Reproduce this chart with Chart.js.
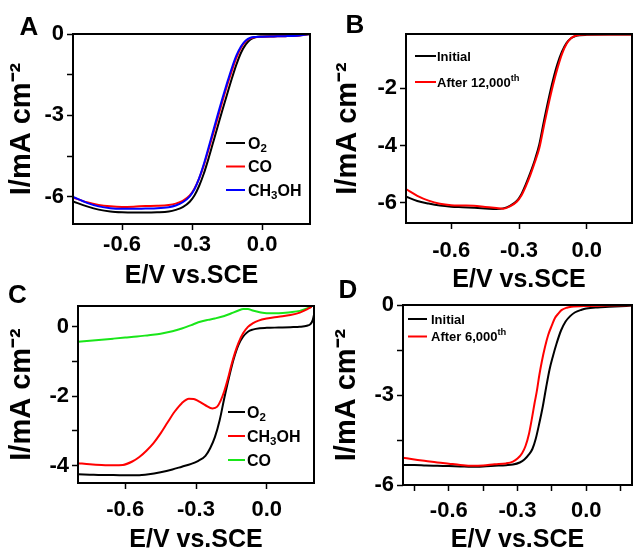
<!DOCTYPE html>
<html><head><meta charset="utf-8">
<script src="https://cdn.jsdelivr.net/npm/chart.js@4.4.1/dist/chart.umd.min.js"></script>
<style>
html,body{margin:0;padding:0;background:#fff;}
body{width:633px;height:553px;position:relative;overflow:hidden;}
canvas{position:absolute;}
</style></head><body>
<canvas id="cA" width="316" height="296" style="left:0;top:0"></canvas>
<canvas id="cB" width="317" height="296" style="left:316px;top:0"></canvas>
<canvas id="cC" width="316" height="277" style="left:0;top:276px"></canvas>
<canvas id="cD" width="317" height="277" style="left:316px;top:276px"></canvas>
<script>
// ---------- DATA ----------
// Panel A
const E_A = [-0.81,-0.75,-0.70,-0.65,-0.60,-0.55,-0.50,-0.45,-0.40,-0.37,-0.34,-0.31,-0.29,-0.27,-0.25,-0.23,-0.21,-0.19,-0.17,-0.15,-0.13,-0.11,-0.09,-0.07,-0.05,-0.03,0.00,0.05,0.10,0.15,0.18,0.205];
const I_A_O2 = [-6.17,-6.35,-6.47,-6.54,-6.57,-6.58,-6.58,-6.57,-6.54,-6.48,-6.38,-6.18,-5.95,-5.60,-5.15,-4.60,-4.00,-3.40,-2.80,-2.22,-1.65,-1.12,-0.68,-0.38,-0.20,-0.12,-0.09,-0.08,-0.07,-0.05,-0.02,0.00];
const I_A_CO = [-6.02,-6.20,-6.30,-6.35,-6.37,-6.36,-6.34,-6.33,-6.30,-6.25,-6.15,-5.95,-5.70,-5.33,-4.85,-4.28,-3.68,-3.08,-2.48,-1.90,-1.36,-0.87,-0.50,-0.27,-0.16,-0.12,-0.10,-0.09,-0.08,-0.06,-0.03,0.00];
const I_A_MeOH = [-6.00,-6.22,-6.35,-6.42,-6.44,-6.44,-6.43,-6.42,-6.38,-6.32,-6.20,-5.98,-5.72,-5.32,-4.80,-4.20,-3.58,-2.97,-2.37,-1.80,-1.26,-0.79,-0.45,-0.24,-0.14,-0.11,-0.10,-0.09,-0.08,-0.06,-0.03,0.00];
const LABELS_A = ['O_{2}','CO','CH_{3}OH'];
// Panel B
const E_B = [-0.80,-0.75,-0.70,-0.65,-0.60,-0.55,-0.50,-0.45,-0.40,-0.37,-0.34,-0.31,-0.29,-0.27,-0.25,-0.23,-0.21,-0.19,-0.17,-0.15,-0.13,-0.11,-0.09,-0.07,-0.05,-0.03,0.00,0.10,0.20];
const I_B_INIT = [-5.78,-5.93,-6.02,-6.09,-6.13,-6.15,-6.17,-6.19,-6.21,-6.19,-6.10,-5.93,-5.70,-5.35,-4.95,-4.50,-3.95,-3.15,-2.40,-1.72,-1.15,-0.72,-0.42,-0.25,-0.17,-0.14,-0.13,-0.12,-0.12];
const I_B_AFTER = [-5.52,-5.75,-5.92,-6.03,-6.08,-6.09,-6.10,-6.14,-6.18,-6.20,-6.12,-5.96,-5.75,-5.42,-5.03,-4.58,-4.08,-3.32,-2.58,-1.90,-1.30,-0.80,-0.45,-0.25,-0.16,-0.13,-0.12,-0.12,-0.12];
const LABELS_B = ['Initial','After 12,000^{th}'];
// Panel C
const E_C_O2 = [-0.80,-0.75,-0.70,-0.65,-0.60,-0.55,-0.50,-0.45,-0.40,-0.36,-0.32,-0.29,-0.26,-0.24,-0.22,-0.20,-0.18,-0.16,-0.14,-0.12,-0.10,-0.08,-0.06,-0.03,0.00,0.05,0.10,0.14,0.17,0.185,0.195,0.20];
const I_C_O2 = [-4.25,-4.26,-4.27,-4.27,-4.28,-4.28,-4.25,-4.19,-4.11,-4.03,-3.95,-3.86,-3.72,-3.50,-3.18,-2.70,-2.05,-1.45,-0.92,-0.52,-0.28,-0.14,-0.08,-0.04,-0.03,-0.02,-0.01,0.00,0.03,0.08,0.20,0.35];
const E_C_MeOH = [-0.80,-0.75,-0.70,-0.65,-0.61,-0.57,-0.54,-0.51,-0.48,-0.45,-0.42,-0.39,-0.36,-0.33,-0.31,-0.29,-0.26,-0.23,-0.21,-0.195,-0.18,-0.165,-0.15,-0.135,-0.12,-0.10,-0.08,-0.06,-0.035,0.00,0.05,0.10,0.14,0.17,0.19];
const I_C_MeOH = [-3.93,-3.96,-3.98,-3.99,-3.98,-3.88,-3.75,-3.57,-3.35,-3.07,-2.75,-2.44,-2.20,-2.07,-2.08,-2.14,-2.26,-2.35,-2.30,-2.12,-1.85,-1.50,-1.10,-0.75,-0.46,-0.18,0.00,0.10,0.18,0.24,0.29,0.34,0.41,0.50,0.58];
const E_C_CO = [-0.80,-0.75,-0.70,-0.65,-0.60,-0.55,-0.50,-0.45,-0.40,-0.36,-0.32,-0.29,-0.25,-0.22,-0.18,-0.15,-0.12,-0.10,-0.08,-0.06,-0.03,0.00,0.05,0.10,0.14,0.17,0.19];
const I_C_CO = [-0.43,-0.40,-0.37,-0.34,-0.31,-0.28,-0.24,-0.20,-0.13,-0.05,0.05,0.13,0.20,0.24,0.31,0.39,0.47,0.51,0.51,0.47,0.42,0.39,0.39,0.42,0.46,0.53,0.58];
const LABELS_C = ['O_{2}','CH_{3}OH','CO'];
// Panel D
const E_D_INIT = [-0.80,-0.75,-0.70,-0.65,-0.60,-0.55,-0.50,-0.45,-0.40,-0.35,-0.32,-0.29,-0.27,-0.25,-0.235,-0.22,-0.205,-0.19,-0.175,-0.16,-0.145,-0.13,-0.11,-0.09,-0.07,-0.05,-0.02,0.00,0.05,0.10,0.15,0.20];
const I_D_INIT = [-5.33,-5.33,-5.35,-5.36,-5.37,-5.38,-5.39,-5.38,-5.36,-5.34,-5.32,-5.25,-5.15,-4.98,-4.80,-4.45,-3.95,-3.40,-2.75,-2.15,-1.70,-1.30,-0.85,-0.55,-0.37,-0.25,-0.16,-0.12,-0.08,-0.06,-0.04,-0.02];
const E_D_AFTER = [-0.80,-0.75,-0.70,-0.65,-0.60,-0.55,-0.50,-0.45,-0.40,-0.35,-0.32,-0.30,-0.28,-0.265,-0.25,-0.237,-0.225,-0.216,-0.205,-0.194,-0.18,-0.166,-0.15,-0.137,-0.12,-0.108,-0.085,-0.065,0.00,0.10,0.20];
const I_D_AFTER = [-5.09,-5.15,-5.20,-5.25,-5.29,-5.33,-5.36,-5.35,-5.31,-5.28,-5.22,-5.12,-4.94,-4.70,-4.30,-3.78,-3.25,-2.89,-2.35,-1.89,-1.40,-1.00,-0.68,-0.44,-0.27,-0.17,-0.09,-0.06,-0.03,-0.02,-0.01];
const LABELS_D = ['Initial','After 6,000^{th}'];
// Ticks
const X_MAJOR = [-0.6,-0.3,0.0];
const X_MINOR_D = [-0.75,-0.45,-0.15,0.15];
const Y_MAJOR_A = [0,-3,-6], Y_MINOR_A = [-1.5,-4.5];
const Y_MAJOR_B = [-2,-4,-6];
const Y_MAJOR_C = [0,-2,-4], Y_MINOR_C = [-1,-3];
const Y_MAJOR_D = [0,-3,-6], Y_MINOR_D = [-1.5,-4.5];
const X_TITLE = 'E/V vs.SCE';
const Y_TITLE = 'I/mA cm\u207B\u00B2';

// ---------- RENDERING ----------
const FAMILY = "'Liberation Sans', Arial, Helvetica, sans-serif";
Chart.defaults.font.family = FAMILY;
Chart.defaults.color = '#000';

function pts(xs, ys){ return xs.map((x,i)=>({x:x, y:ys[i]})); }
function parseRich(s){
  const out=[]; const re=/([_^])\{([^}]*)\}/g; let last=0,m;
  while((m=re.exec(s))){ if(m.index>last) out.push([s.slice(last,m.index),'n']); out.push([m[2], m[1]==='_'?'sub':'sup']); last=re.lastIndex; }
  if(last<s.length) out.push([s.slice(last),'n']);
  return out;
}
function drawRich(ctx, s, x, y, size){
  for(const [t,k] of parseRich(s)){
    const fs = k==='n'?size:size*0.72;
    const dy = k==='sub'?size*0.22:(k==='sup'?-size*0.45:0);
    ctx.font = 'bold '+fs+'px '+FAMILY;
    ctx.fillText(t,x,y+dy);
    x += ctx.measureText(t).width;
  }
}
const decor = {
  id:'decor',
  afterDraw(chart, args, o){
    const ctx = chart.ctx, a = chart.chartArea;
    ctx.save();
    ctx.strokeStyle='#000'; ctx.lineWidth=2;
    ctx.strokeRect(a.left, a.top, a.right-a.left, a.bottom-a.top);
    // panel letter
    ctx.fillStyle='#000'; ctx.textAlign='center'; ctx.textBaseline='alphabetic';
    ctx.font='bold 26px '+FAMILY;
    ctx.fillText(o.letter, o.lx, o.ly);
    // legend
    ctx.textAlign='left';
    const ds = chart.data.datasets;
    o.labels.forEach((lab,i)=>{
      const y = o.gy + i*o.gdy;
      ctx.strokeStyle = ds[i].borderColor; ctx.lineWidth=2;
      ctx.beginPath(); ctx.moveTo(o.gx, y); ctx.lineTo(o.gx+o.glen, y); ctx.stroke();
      ctx.fillStyle='#000';
      drawRich(ctx, lab, o.gx+o.glen+o.ggap, y+o.gsize*0.36, o.gsize);
    });
    ctx.restore();
  }
};
function near(v, arr){ return arr.some(t=>Math.abs(t-v)<1e-6); }

function makeChart(id, cfg){
  const xAll = cfg.xMajor.concat(cfg.xMinor||[]).sort((a,b)=>a-b);
  const yAll = cfg.yMajor.concat(cfg.yMinor||[]).sort((a,b)=>a-b);
  return new Chart(document.getElementById(id), {
    type:'line',
    data:{ datasets: cfg.series.map(s=>({
      label: s.name, data: pts(s.x, s.y), borderColor: s.color, backgroundColor: s.color,
      borderWidth: 2, pointRadius: 0, fill:false, cubicInterpolationMode:'monotone', order: s.order
    }))},
    options:{
      responsive:false, animation:false, devicePixelRatio:1,
      layout:{ padding:{left:0, top:cfg.padTop, right:cfg.padRight, bottom:0} },
      plugins:{ legend:{display:false}, tooltip:{enabled:false},
        decor:{ letter:cfg.letter, lx:cfg.lx, ly:cfg.ly, labels:cfg.labels, gx:cfg.gx, gy:cfg.gy, gdy:cfg.gdy, glen:cfg.glen, ggap:cfg.ggap, gsize:cfg.gsize } },
      scales:{
        x:{ type:'linear', min:cfg.xmin, max:cfg.xmax,
          afterBuildTicks: s=>{ s.ticks = xAll.map(v=>({value:v})); },
          afterFit: s=>{ s.height = cfg.xH; },
          ticks:{ autoSkip:false, maxRotation:0, minRotation:0, padding:cfg.xTickPad,
            font:{size:22, weight:'bold'}, color:'#000',
            callback: v=> near(v, cfg.xMajor) ? Number(v).toFixed(1) : '' },
          grid:{ display:true, drawOnChartArea:false, drawTicks:true, tickLength:6, tickWidth:1.5, tickColor:'#000' },
          border:{ display:false },
          title:{ display:true, text:X_TITLE, font:{size:25, weight:'bold', lineHeight:1}, color:'#000', padding:{top:0, bottom:cfg.xTitlePad} }
        },
        y:{ type:'linear', min:cfg.ymin, max:cfg.ymax,
          afterBuildTicks: s=>{ s.ticks = yAll.map(v=>({value:v})); },
          afterFit: s=>{ s.width = cfg.yW; },
          ticks:{ autoSkip:false, padding:3, font:{size:22, weight:'bold'}, color:'#000',
            callback: v=> near(v, cfg.yMajor) ? String(v) : '' },
          grid:{ display:true, drawOnChartArea:false, drawTicks:true, tickLength:6, tickWidth:1.5, tickColor:'#000' },
          border:{ display:false },
          title:{ display:true, text:Y_TITLE, font:{size:29, weight:'bold', lineHeight:1}, color:'#000', padding:{top:cfg.yTitlePad, bottom:0} }
        }
      }
    },
    plugins:[decor]
  });
}

makeChart('cA', {
  series:[
    {name:'O2', x:E_A, y:I_A_O2, color:'#000000', order:2},
    {name:'CO', x:E_A, y:I_A_CO, color:'#ff0000', order:1},
    {name:'CH3OH', x:E_A, y:I_A_MeOH, color:'#0000ff', order:0}
  ],
  labels:LABELS_A, xMajor:X_MAJOR, xMinor:[], yMajor:Y_MAJOR_A, yMinor:Y_MINOR_A,
  xmin:-0.81, xmax:0.205, ymin:-7, ymax:0,
  padTop:34, padRight:6, yW:73, xH:72, xTickPad:2, xTitlePad:7.5, yTitlePad:7.5,
  letter:'A', lx:29, ly:35, gx:226, gy:143, gdy:23.5, glen:19, ggap:3, gsize:16
});
makeChart('cB', {
  series:[
    {name:'Initial', x:E_B, y:I_B_INIT, color:'#000000', order:1},
    {name:'After 12,000th', x:E_B, y:I_B_AFTER, color:'#ff0000', order:0}
  ],
  labels:LABELS_B, xMajor:X_MAJOR, xMinor:[], yMajor:Y_MAJOR_B, yMinor:[],
  xmin:-0.8, xmax:0.2, ymin:-6.7, ymax:-0.1,
  padTop:34, padRight:1, yW:90, xH:73, xTickPad:9, xTitlePad:3.5, yTitlePad:17,
  letter:'B', lx:39, ly:33, gx:99, gy:56, gdy:26, glen:21, ggap:1, gsize:13
});
makeChart('cC', {
  series:[
    {name:'O2', x:E_C_O2, y:I_C_O2, color:'#000000', order:1},
    {name:'CH3OH', x:E_C_MeOH, y:I_C_MeOH, color:'#ff0000', order:0},
    {name:'CO', x:E_C_CO, y:I_C_CO, color:'#19e619', order:2}
  ],
  labels:LABELS_C, xMajor:X_MAJOR, xMinor:[], yMajor:Y_MAJOR_C, yMinor:Y_MINOR_C,
  xmin:-0.8, xmax:0.2, ymin:-4.5, ymax:0.6,
  padTop:30, padRight:2, yW:78, xH:70, xTickPad:8, xTitlePad:0.5, yTitlePad:7,
  letter:'C', lx:17.5, ly:27, gx:228, gy:136, gdy:24, glen:17, ggap:2, gsize:16
});
makeChart('cD', {
  series:[
    {name:'Initial', x:E_D_INIT, y:I_D_INIT, color:'#000000', order:1},
    {name:'After 6,000th', x:E_D_AFTER, y:I_D_AFTER, color:'#ff0000', order:0}
  ],
  labels:LABELS_D, xMajor:X_MAJOR, xMinor:X_MINOR_D, yMajor:Y_MAJOR_D, yMinor:Y_MINOR_D,
  xmin:-0.8, xmax:0.2, ymin:-6, ymax:0,
  padTop:29, padRight:1, yW:87, xH:68, xTickPad:7, xTitlePad:0.5, yTitlePad:16,
  letter:'D', lx:32, ly:22, gx:92, gy:43, gdy:17.5, glen:19, ggap:4, gsize:13
});
</script>
</body></html>
